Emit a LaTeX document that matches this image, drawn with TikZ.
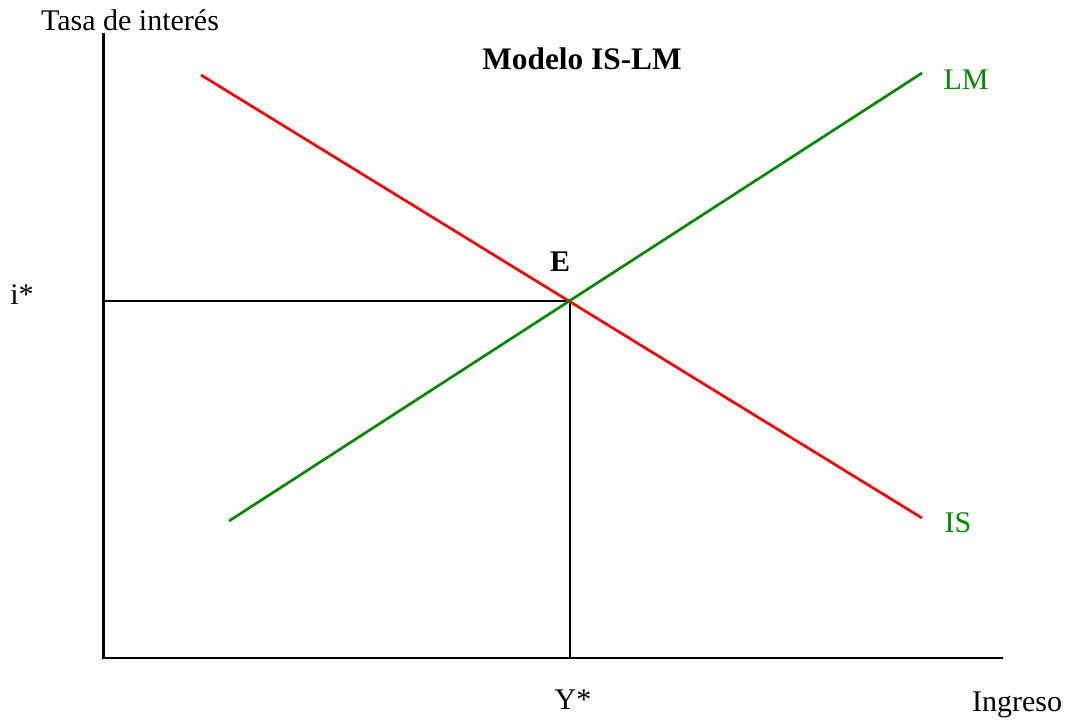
\documentclass[tikz,border=0pt]{standalone}
\usepackage{fontspec}
\setmainfont{Liberation Serif}
\definecolor{lmgreen}{RGB}{0,140,0}
\begin{document}
\begin{tikzpicture}[x=0.75pt, y=-0.75pt, every node/.style={font=\fontsize{22.5}{27}\selectfont, inner sep=0pt},
  axis/.style={draw=black,line width=2.2pt},
  guide/.style={draw=black,line width=1.1pt},
  curve/.style={line width=2pt},
  lbl/.style={text=lmgreen}]
\useasboundingbox (0,0) rectangle (1066,719);
% axes
\coordinate (top) at (103.5,33);
\coordinate (orig) at (103.5,658);
\coordinate (right) at (1003,658);
\draw[axis] (top) -- (orig) -- (right);
% curves
\coordinate (is1) at (201,75); \coordinate (is2) at (922,518);
\coordinate (lm1) at (229,521); \coordinate (lm2) at (922,73);
\coordinate (E) at (570,301);
\coordinate (Ey) at (103.5,301); \coordinate (Ex) at (570,658);
\draw[guide] (Ey) -- (E) -- (Ex);
\draw[curve,red] (is1) -- (is2);
\draw[curve,lmgreen] (lm1) -- (lm2);
% labels
\node (yaxis) at (130,20) {Tasa de interés};
\node[font=\fontsize{23.5}{28}\selectfont\bfseries] (title) at (582,59) {Modelo IS-LM};
\node[lbl] (lmlab) at (966,80) {LM};
\node[lbl] (islab) at (958,523) {IS};
\node[font=\fontsize{22.5}{27}\selectfont\bfseries] (elab) at (560,262) {E};
\node (ilab) at (22,295) {i*};
\node (ylab) at (573,700) {Y*};
\node (xaxis) at (1017,705) {Ingreso};
\end{tikzpicture}
\end{document}
